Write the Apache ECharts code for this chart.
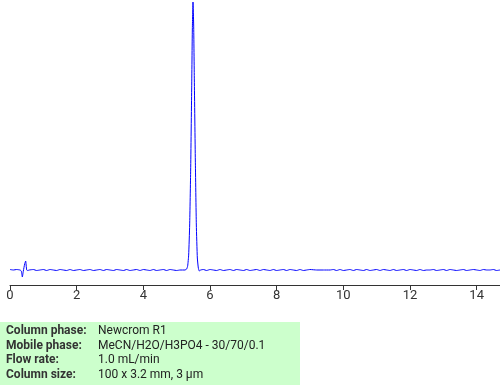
<!DOCTYPE html>
<html><head><meta charset="utf-8">
<script src="https://cdn.jsdelivr.net/npm/echarts@6/dist/echarts.min.js"></script>
<style>html,body{margin:0;padding:0;background:#fff}#c{width:500px;height:385px}</style>
</head><body><div id="c"></div>
<script>
var times = [0.0,0.1,0.2,0.3,0.34,0.37,0.40,0.44,0.47,0.50,0.53,0.58,0.7,0.8,0.9,1.0,1.1,1.2,1.3,1.4,1.5,1.6,1.7,1.8,1.9,2.0,2.1,2.2,2.3,2.4,2.5,2.6,2.7,2.8,2.9,3.0,3.1,3.2,3.3,3.4,3.5,3.6,3.7,3.8,3.9,4.0,4.1,4.2,4.3,4.4,4.5,4.6,4.7,4.8,4.9,5.0,5.1,5.25,5.30,5.33,5.36,5.39,5.42,5.45,5.47,5.49,5.51,5.53,5.56,5.59,5.62,5.65,5.68,5.72,5.8,5.9,6.0,6.1,6.2,6.3,6.4,6.5,6.6,6.7,6.8,6.9,7.0,7.1,7.2,7.3,7.4,7.5,7.6,7.7,7.8,7.9,8.0,8.1,8.2,8.3,8.4,8.5,8.6,8.7,8.8,8.9,9.0,9.2,9.4,9.6,9.7,9.8,9.9,10.0,10.1,10.2,10.3,10.4,10.5,10.6,10.7,10.8,10.9,11.0,11.1,11.2,11.3,11.4,11.5,11.6,11.7,11.8,11.9,12.0,12.1,12.2,12.3,12.4,12.5,12.6,12.7,12.8,12.9,13.0,13.1,13.2,13.3,13.4,13.5,13.6,13.7,13.8,13.9,14.0,14.1,14.2,14.3,14.4,14.5,14.6,14.7];
var signal = [0.5,0,0.5,0,-1,-7,-1,6,9,0,-0.5,0,0.5,-0.5,0,0.5,-0.5,0.5,0,-0.5,0.5,0,-0.5,0.5,-0.5,0,0.5,-0.5,0,0.5,-0.5,0,0.5,-0.5,0.5,0,-0.5,0.5,0,-0.5,0.5,-0.5,0,0.5,-0.5,0.5,0,-0.5,0.5,-0.5,0,0.5,-0.5,0.5,0,-0.5,0,0,1,4,15,45,100,180,240,268,245,190,110,45,12,2,-1,0,0.5,-0.5,0.5,0,-0.5,0.5,-0.5,0,0.5,-0.5,0.5,0,-0.5,0.5,-0.5,0,0.5,-0.5,0.5,0,-0.5,0.5,-0.5,0,0.5,-0.5,0.5,0,-0.5,0.5,-0.5,0,0.5,0,0,0,0.5,-0.5,0.5,-0.5,0,0.5,-0.5,0.5,0,-0.5,0.5,-0.5,0,0.5,-0.5,0.5,0,-0.5,0.5,-0.5,0,0.5,-0.5,0.5,0,-0.5,0.5,-0.5,0,0,0.5,-0.5,0,0.5,-0.5,0.5,0,-0.5,0,0.5,-0.5,0,0.5,0,-0.5,0.5,0,0,0.5,-0.5,0,0];
var xTicks = [0,2,4,6,8,10,12,14];
var infoLabels = ["Column phase:","Mobile phase:","Flow rate:","Column size:"];
var infoValues = ["Newcrom R1","MeCN/H2O/H3PO4 - 30/70/0.1","1.0 mL/min","100 x 3.2 mm, 3 µm"];

var data = times.map(function(t,i){return [t, signal[i]];});
var chart = echarts.init(document.getElementById('c'), null, {renderer:'canvas'});
var graphics = [{type:'rect', left:0, top:322, shape:{width:300,height:63}, style:{fill:'#ccffcc'}}];
infoLabels.forEach(function(l,i){
  graphics.push({type:'text', left:6, top:325+i*14.5, style:{text:l, fill:'#333', font:'bold 12px Roboto, "Liberation Sans", sans-serif'}});
  graphics.push({type:'text', left:98, top:325+i*14.5, style:{text:infoValues[i], fill:'#222', font:'12px Roboto, "Liberation Sans", sans-serif'}});
});
chart.setOption({
  animation:false,
  grid:{left:10, right:0, top:0, bottom:100},
  xAxis:{type:'value', min:0, max:14.7,
    axisLine:{show:true, onZero:false, lineStyle:{color:'#333', width:1}},
    axisTick:{show:true, inside:false, length:5, lineStyle:{color:'#333', width:1}, customValues:xTicks},
    axisLabel:{color:'#333', fontSize:13, fontFamily:'Roboto', margin:4, customValues:xTicks},
    splitLine:{show:false}},
  yAxis:{type:'value', min:-15, max:270, show:false, splitLine:{show:false}},
  series:[{type:'line', data:data, symbol:'none', smooth:0.15,
    lineStyle:{color:'#0000ff', width:1}}],
  graphic:graphics
});
</script></body></html>
